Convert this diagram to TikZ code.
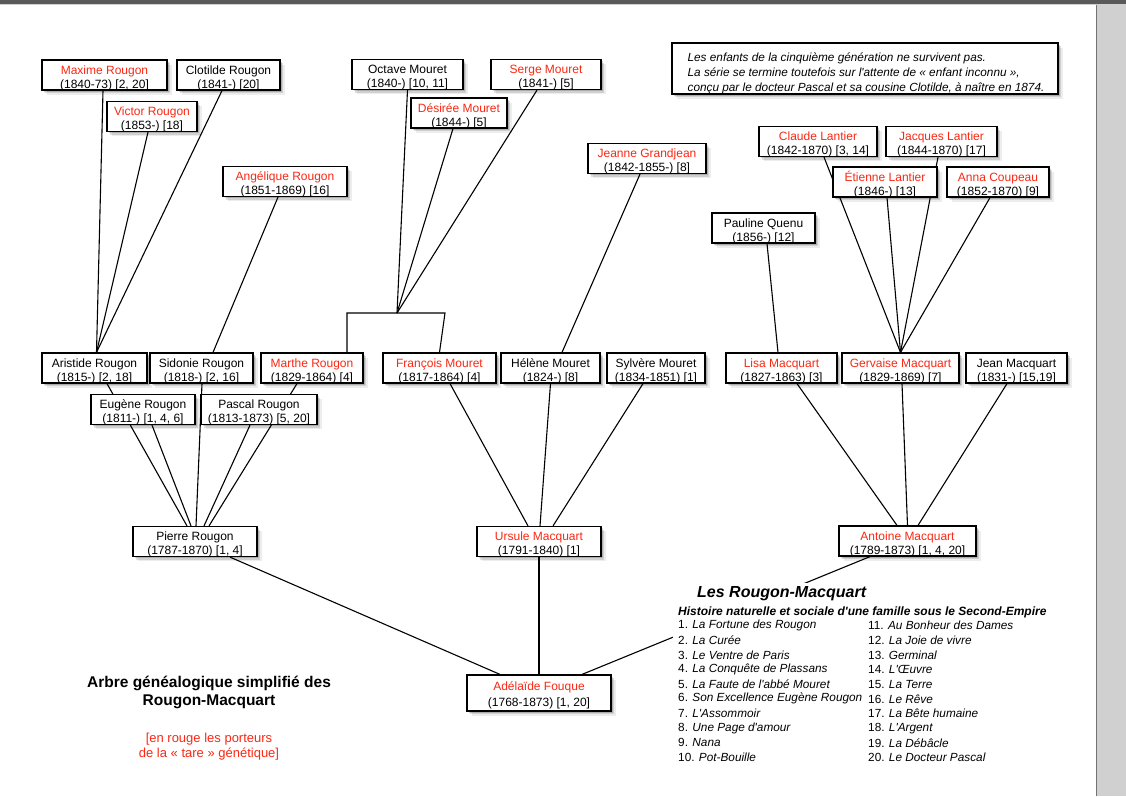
\documentclass[tikz,border=0pt]{standalone}
\usepackage{fontspec}
\setmainfont{Liberation Sans}[Ligatures=TeXOff]
\usetikzlibrary{shadows}

\definecolor{tarered}{RGB}{250,40,20}
\definecolor{pagegray}{RGB}{208,208,208}
\newcommand{\tare}[1]{\textcolor{tarered}{#1}}

\pgfdeclarelayer{page}
\pgfdeclarelayer{edges}
\pgfsetlayers{page,edges,main}

\tikzset{
	shadowed/.style={
		drop shadow={shadow xshift=1.5pt, shadow yshift=-1.5pt, opacity=.16, fill=black},
		drop shadow={shadow xshift=3pt, shadow yshift=-3pt, opacity=.12, fill=black},
		drop shadow={shadow xshift=4.5pt, shadow yshift=-4.5pt, opacity=.07, fill=black}},
	person/.style={draw, line width=1.2pt, fill=white, shadowed, align=center,
		inner xsep=0pt, inner ysep=-1.5pt, minimum height=30pt, font=\fontsize{12}{14}\selectfont,
		execute at begin node=\rule{0pt}{29pt}, execute at end node=\rule[-3pt]{0pt}{3pt}},
	notebox/.style={draw, line width=1.2pt, fill=white, shadowed, inner sep=0pt},
	link/.style={line width=1.1pt},
	book/.style={anchor=west, inner sep=0pt, font=\fontsize{11.8}{14}\selectfont},
}

\begin{document}
\begin{tikzpicture}[x=1pt, y=-1pt]
		\useasboundingbox (0,0) rectangle (1126,796);

		% Page
		\begin{pgfonlayer}{page}
			\fill[pagegray] (0,0) rectangle (1126,796);
			\fill[white] (0,5) rectangle (1096,796);
			\draw[black!55, line width=1pt] (1096.5,5) -- (1096.5,796);
			\fill[black!65] (0,0) rectangle (1126,4);
		\end{pgfonlayer}

		% Note
		\node[notebox, minimum width=386pt, minimum height=51pt] (note) at (865,68.5) {};
		\node[anchor=west, align=left, inner sep=0pt, font=\fontsize{11.8}{15}\selectfont\itshape]
			(notetexte) at ([xshift=16pt, yshift=-4.5pt]note.west)
			{Les enfants de la cinquième génération ne survivent pas.\\
			La série se termine toutefois sur l'attente de «~enfant inconnu~»,\\
			conçu par le docteur Pascal et sa cousine Clotilde, à naître en 1874.};

		% Fifth generation
		\node[person, minimum width=125pt] (maxime) at (104.5,75) {\tare{Maxime Rougon}\\(1840-73) [2, 20]};
		\node[person, minimum width=103pt] (clotilde) at (228.5,75) {Clotilde Rougon\\(1841-) [20]};
		\node[person, minimum width=90pt] (victor) at (152,116.5) {\tare{Victor Rougon}\\(1853-) [18]};
		\node[person, minimum width=124pt] (angelique) at (285,181.5) {\tare{Angélique Rougon}\\(1851-1869) [16]};
		\node[person, minimum width=111pt] (octave) at (407.5,74.5) {Octave Mouret\\(1840-) [10, 11]};
		\node[person, minimum width=110pt] (serge) at (546,74.5) {\tare{Serge Mouret}\\(1841-) [5]};
		\node[person, minimum width=96pt] (desiree) at (459,113) {\tare{Désirée Mouret}\\(1844-) [5]};
		\node[person, minimum width=118pt] (jeanne) at (647,158.5) {\tare{Jeanne Grandjean}\\(1842-1855-) [8]};
		\node[person, minimum width=118pt] (claude) at (818,141.5) {\tare{Claude Lantier}\\(1842-1870) [3, 14]};
		\node[person, minimum width=111pt] (jacques) at (941.5,141.5) {\tare{Jacques Lantier}\\(1844-1870) [17]};
		\node[person, minimum width=104pt] (etienne) at (885,182) {\tare{Étienne Lantier}\\(1846-) [13]};
		\node[person, minimum width=102pt] (anna) at (998,182) {\tare{Anna Coupeau}\\(1852-1870) [9]};
		\node[person, minimum width=103pt] (pauline) at (763.5,228) {Pauline Quenu\\(1856-) [12]};

		% Fourth generation
		\node[person, minimum width=105pt] (aristide) at (94.5,368) {Aristide Rougon\\(1815-) [2, 18]};
		\node[person, minimum width=103pt] (sidonie) at (201.5,368) {Sidonie Rougon\\(1818-) [2, 16]};
		\node[person, minimum width=102pt] (marthe) at (312,368) {\tare{Marthe Rougon}\\(1829-1864) [4]};
		\node[person, minimum width=104pt] (eugene) at (143,409.5) {Eugène Rougon\\(1811-) [1, 4, 6]};
		\node[person, minimum width=116pt] (pascal) at (259,409.5) {Pascal Rougon\\(1813-1873) [5, 20]};
		\node[person, minimum width=113pt] (francois) at (439.5,368) {\tare{François Mouret}\\(1817-1864) [4]};
		\node[person, minimum width=99pt] (helene) at (550.5,368) {Hélène Mouret\\(1824-) [8]};
		\node[person, minimum width=98pt] (sylvere) at (656,368) {Sylvère Mouret\\(1834-1851) [1]};
		\node[person, minimum width=111pt] (lisa) at (781.5,368) {\tare{Lisa Macquart}\\(1827-1863) [3]};
		\node[person, minimum width=117pt] (gervaise) at (900.5,368) {\tare{Gervaise Macquart}\\(1829-1869) [7]};
		\node[person, minimum width=101pt] (jean) at (1016.5,368) {Jean Macquart\\(1831-) [15,19]};

		% Second and third generation
		\node[person, minimum width=124pt] (pierre) at (195,541.5) {Pierre Rougon\\(1787-1870) [1, 4]};
		\node[person, minimum width=124pt] (ursule) at (539,541.5) {\tare{Ursule Macquart}\\(1791-1840) [1]};
		\node[person, minimum width=137pt] (antoine) at (907.5,541) {\tare{Antoine Macquart}\\(1789-1873) [1, 4, 20]};
		\node[person, minimum width=144pt, minimum height=36pt, font=\fontsize{12}{16}\selectfont]
			(adelaide) at (539,693) {\tare{Adélaïde Fouque}\\(1768-1873) [1, 20]};

		% Edges
		\begin{pgfonlayer}{edges}
			\foreach \kid/\dx in {maxime/-1.5, victor/-4, clotilde/-6.5}
			\draw[link] ([xshift=2pt]aristide.north) -- ([xshift=\dx pt]\kid.south);
			\draw[link] ([xshift=11.5pt]sidonie.north) -- ([xshift=-7pt]angelique.south);

			\coordinate (mL) at (347,313);
			\coordinate (mR) at (445,313);
			\coordinate (mariage) at (397,313);
			\draw[link] (marthe.north -| mL) -- (mL) -- (mR) -- (francois.north);
			\foreach \kid/\dx in {octave/0, desiree/-6, serge/-9}
			\draw[link] (mariage) -- ([xshift=\dx pt]\kid.south);

			\draw[link] ([xshift=-7pt]jeanne.south) -- ([xshift=11.5pt]helene.north);
			\draw[link] ([xshift=3.5pt]pauline.south) -- ([xshift=-3.5pt]lisa.north);
			\foreach \kid/\dx in {claude/6, jacques/-3.5, etienne/2, anna/-8}
			\draw[link] (gervaise.north) -- ([xshift=\dx pt]\kid.south);

			\foreach \kid/\dx/\px in {aristide/12.5/-8, eugene/9/-4, sidonie/0.5/1, pascal/-9/9, marthe/-15/14}
			\draw[link] ([xshift=\dx pt]\kid.south) -- ([xshift=\px pt]pierre.north);
			\foreach \kid/\dx/\px in {francois/10.5/-11, helene/0/1, sylvere/-13/14}
			\draw[link] ([xshift=\dx pt]\kid.south) -- ([xshift=\px pt]ursule.north);
			\foreach \kid/\dx/\px in {lisa/15.5/-10.5, gervaise/1.5/0, jean/-9.5/10.5}
			\draw[link] ([xshift=\dx pt]\kid.south) -- ([xshift=\px pt]antoine.north);

			\draw[link] ([xshift=35pt]pierre.south) -- ([xshift=-39pt]adelaide.north);
			\draw[link] (ursule.south) -- (adelaide.north);
			\draw[link] ([xshift=-37.5pt]antoine.south) -- ([xshift=43pt]adelaide.north);
		\end{pgfonlayer}

		% Title
		\node[align=center, font=\fontsize{15.5}{18}\selectfont\bfseries] (titre) at (209,692)
			{Arbre généalogique simplifié des\\Rougon-Macquart};
		\node[align=center, text=tarered, font=\fontsize{13}{15}\selectfont] (legende) at (209,747)
			{[en rouge les porteurs\\de la «~tare~» génétique]};

		% Books
		\fill[white] (673,583) rectangle (1050,768);
		\node[anchor=west, inner sep=0pt, font=\fontsize{16}{18}\selectfont\bfseries\itshape] (serie) at (697,594) {Les Rougon-Macquart};
		\node[anchor=west, inner sep=0pt, font=\fontsize{12}{14}\selectfont\bfseries\itshape] (soustitre) at (678,612.5)
			{Histoire naturelle et sociale d'une famille sous le Second-Empire};
		\foreach \nr/\titre [count=\i from 0] in {1/La Fortune des Rougon, 2/La Curée, 3/Le Ventre de Paris,
				4/La Conquête de Plassans, 5/La Faute de l'abbé Mouret, 6/Son Excellence Eugène Rougon,
				7/L'Assommoir, 8/Une Page d'amour, 9/Nana, 10/Pot-Bouille}
		\node[book] (livre\nr) at (678,625.5+\i*14.67) {\nr. \textit{\titre}};
		\foreach \nr/\titre [count=\i from 0] in {11/Au Bonheur des Dames, 12/La Joie de vivre, 13/Germinal,
				14/L'Œuvre, 15/La Terre, 16/Le Rêve, 17/La Bête humaine, 18/L'Argent,
				19/La Débâcle, 20/Le Docteur Pascal}
		\node[book] (livre\nr) at (868,625.5+\i*14.67) {\nr. \textit{\titre}};
	\end{tikzpicture}
\end{document}
